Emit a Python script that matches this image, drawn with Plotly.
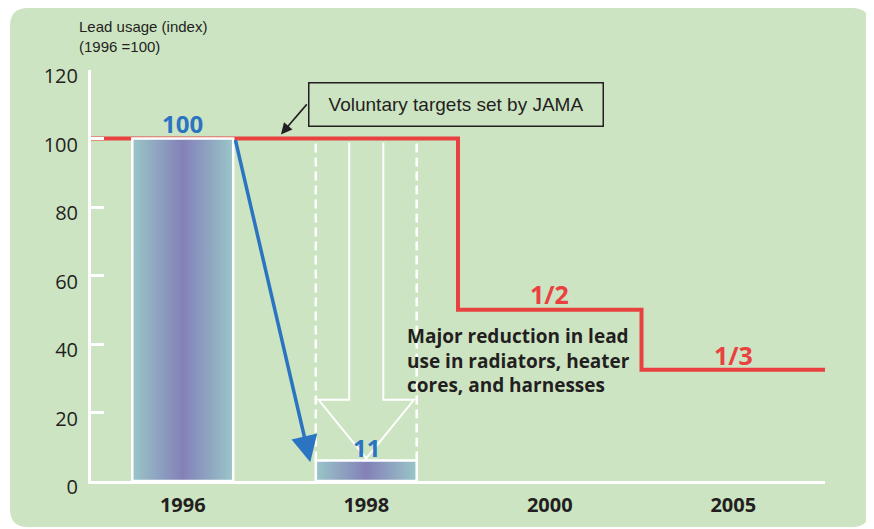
import plotly.graph_objects as go

# ---------------- data ----------------
years = ["1996", "1998", "2000", "2005"]
bar_positions = [0, 1]
bar_heights = [100, 6]          # drawn heights of the index bars
bar_labels = ["100", "11"]
target_x = [-0.5, 1.5, 2.5, 3.5]
target_y = [100, 50, 32.5, 32.5]
target_labels = ["1/2", "1/3"]
target_label_x = [2, 3]
target_label_y = [54.6, 36.8]
y_ticks = [0, 20, 40, 60, 80, 100, 120]
note_lines = ["Major reduction in lead", "use in radiators, heater", "cores, and harnesses"]
callout_text = "Voluntary targets set by JAMA"
y_title = "Lead usage (index)<br>(1996 =100)"

# ---------------- style ----------------
OFF = 8                      # page body margin
W, H = 874 - OFF, 529 - OFF
PL, PR, PT, PB = 91, 825, 70, 481   # plot area in page pixels
L, R, T, B = PL - OFF, W - (PR - OFF), PT - OFF, H - (PB - OFF)
GREEN = "#cde4c3"
RED = "#e8413f"
BLUE = "#2b74c2"
DARK = "#231f20"
TEAL = "#9ac6c8"
PURPLE = "#8381b8"
BW = 0.55
FONT = "Open Sans"


def px(x):
    return (x - PL) / (PR - PL)


def py(y):
    return (PB - y) / (PB - PT)


fig = go.Figure()

# red target step line
fig.add_trace(go.Scatter(x=target_x, y=target_y, mode="lines", line_shape="hv",
                         line=dict(color=RED, width=4), hoverinfo="skip"))

# gradient bars
for pos, h in zip(bar_positions, bar_heights):
    x0, x1 = pos - BW / 2, pos + BW / 2
    fig.add_trace(go.Scatter(
        x=[x0, x0, x1, x1, x0], y=[0, h, h, 0, 0], mode="lines", fill="toself",
        fillgradient=dict(type="horizontal",
                          colorscale=[[0, TEAL], [0.5, PURPLE], [1, TEAL]]),
        line=dict(color="white", width=2.5), hoverinfo="skip"))

shapes = []
# rounded green background
x0p, x1p, y0p, y1p, r = 10, 870, OFF, 527, 18
path = (f"M {px(x0p+r)},{py(y0p)} L {px(x1p-r)},{py(y0p)} Q {px(x1p)},{py(y0p)} {px(x1p)},{py(y0p+r)} "
        f"L {px(x1p)},{py(y1p-r)} Q {px(x1p)},{py(y1p)} {px(x1p-r)},{py(y1p)} "
        f"L {px(x0p+r)},{py(y1p)} Q {px(x0p)},{py(y1p)} {px(x0p)},{py(y1p-r)} "
        f"L {px(x0p)},{py(y0p+r)} Q {px(x0p)},{py(y0p)} {px(x0p+r)},{py(y0p)} Z")
shapes.append(dict(type="path", path=path, xref="paper", yref="paper",
                   fillcolor=GREEN, line=dict(width=0), layer="below"))

# dashed guides at 1998 bar edges
p = bar_positions[1]
top_guide = 98.8
for xe in (p - BW / 2, p + BW / 2):
    shapes.append(dict(type="line", x0=xe, x1=xe, y0=bar_heights[1], y1=top_guide,
                       xref="x", yref="y", line=dict(color="white", width=2.5, dash="9px,5px")))

# hollow down arrow
sw, hw = 0.093, 0.26
base_y, tip_y = 23.7, 6.6
apath = (f"M {p-sw},{top_guide} L {p-sw},{base_y} L {p-hw},{base_y} L {p},{tip_y} "
         f"L {p+hw},{base_y} L {p+sw},{base_y} L {p+sw},{top_guide}")
shapes.append(dict(type="path", path=apath, xref="x", yref="y",
                   line=dict(color="white", width=2)))

annotations = []
# bar value labels
for pos, h, lab, ly in zip(bar_positions, bar_heights, bar_labels, [104.5, 9.8]):
    annotations.append(dict(x=pos, y=ly, text=f"<b>{lab}</b>", showarrow=False,
                            font=dict(family=FONT, size=24, color=BLUE),
                            xanchor="center", yanchor="middle"))
# target labels
for lx, ly, lab in zip(target_label_x, target_label_y, target_labels):
    annotations.append(dict(x=lx, y=ly, text=f"<b>{lab}</b>", showarrow=False,
                            font=dict(family=FONT, size=25, color=RED),
                            xanchor="center", yanchor="middle"))
# blue arrow from 1996 to 1998
annotations.append(dict(x=bar_positions[1] - BW / 2 - 0.03, y=bar_heights[1] - 0.5,
                        ax=bar_positions[0] + BW / 2 + 0.01, ay=bar_heights[0],
                        xref="x", yref="y", axref="x", ayref="y", text="",
                        showarrow=True, arrowhead=2, arrowsize=1.5, arrowwidth=3.5,
                        arrowcolor=BLUE))
# note text
annotations.append(dict(x=1.211, y=35.3, text="<b>" + "<br>".join(note_lines) + "</b>",
                        showarrow=False, align="left",
                        font=dict(family=FONT, size=19, color=DARK),
                        xanchor="left", yanchor="middle"))
# callout box
annotations.append(dict(x=1.49, y=109.8, text=callout_text, showarrow=False,
                        font=dict(family="Liberation Sans", size=19, color=DARK),
                        bordercolor=DARK, borderwidth=1.5, borderpad=0,
                        width=293, height=42, xanchor="center", yanchor="middle"))
annotations.append(dict(x=0.535, y=101.2, ax=0.683, ay=110.4, xref="x", yref="y",
                        axref="x", ayref="y", text="", showarrow=True, arrowhead=2,
                        arrowsize=1.4, arrowwidth=1.6, arrowcolor=DARK))
# y title
annotations.append(dict(x=px(77), y=py(37), xref="paper", yref="paper", text=y_title,
                        showarrow=False, align="left", xanchor="left", yanchor="middle",
                        font=dict(family="Liberation Sans", size=15, color=DARK)))

fig.update_layout(
    width=W, height=H, margin=dict(l=L, r=R, t=T, b=B),
    paper_bgcolor="white", plot_bgcolor="rgba(0,0,0,0)",
    showlegend=False, shapes=shapes, annotations=annotations,
    xaxis=dict(range=[-0.5, 3.5], tickvals=list(range(len(years))), ticktext=years,
               showgrid=False, zeroline=False, showline=True, linecolor="white", linewidth=3,
               ticks="", ticklabelstandoff=4,
               tickfont=dict(family=FONT, size=20, color=DARK, weight="bold")),
    yaxis=dict(range=[0, 120], tickvals=y_ticks, showgrid=False, zeroline=False,
               showline=True, linecolor="white", linewidth=3, ticks="inside", ticklen=13,
               tickwidth=3, tickcolor="white", ticklabelstandoff=6, ticklabelshift=6,
               tickfont=dict(family=FONT, size=20, color=DARK)),
)

fig.write_html("out.html")
